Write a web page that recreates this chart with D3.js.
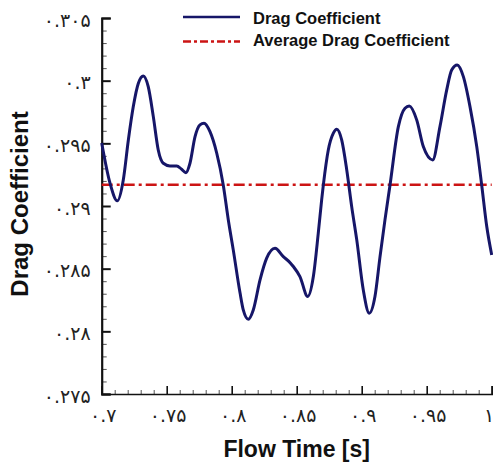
<!DOCTYPE html>
<html><head><meta charset="utf-8">
<script src="https://cdn.jsdelivr.net/npm/d3@7"></script>
<style>html,body{margin:0;padding:0;background:#fff;}</style>
</head><body>
<svg id="c" width="493" height="463"></svg>
<script>
const times = [0.7000,0.7064,0.7120,0.7166,0.7205,0.7243,0.7282,0.7320,0.7358,0.7397,0.7435,0.7474,0.7525,0.7577,0.7615,0.7648,0.7679,0.7718,0.7756,0.7787,0.7833,0.7885,0.7935,0.7974,0.8012,0.8064,0.8089,0.8128,0.8166,0.8218,0.8269,0.8333,0.8397,0.8451,0.8474,0.8525,0.8585,0.8628,0.8666,0.8692,0.8705,0.8743,0.8782,0.8808,0.8846,0.8885,0.8923,0.8962,0.9012,0.9058,0.9102,0.9141,0.9179,0.9218,0.9282,0.9333,0.9366,0.9423,0.9474,0.9546,0.9602,0.9654,0.9692,0.9735,0.9782,0.9833,0.9885,0.9923,0.9962,1.0000];
const dragCoef = [0.29503,0.29182,0.29041,0.29208,0.29527,0.29793,0.29979,0.30037,0.29952,0.29713,0.29447,0.29341,0.29320,0.29320,0.29293,0.29266,0.29341,0.29553,0.29647,0.29660,0.29593,0.29421,0.29168,0.28889,0.28650,0.28307,0.28171,0.28097,0.28171,0.28411,0.28584,0.28663,0.28596,0.28546,0.28517,0.28437,0.28278,0.28437,0.28783,0.29049,0.29168,0.29447,0.29581,0.29612,0.29527,0.29288,0.28995,0.28730,0.28331,0.28145,0.28278,0.28596,0.28889,0.29168,0.29633,0.29780,0.29798,0.29687,0.29474,0.29368,0.29633,0.29926,0.30085,0.30125,0.30032,0.29793,0.29474,0.29168,0.28836,0.28610];
const avgDrag = 0.2917;
const xTicks = [0.7,0.75,0.8,0.85,0.9,0.95,1.0];
const xTickLabels = ["۰.۷","۰.۷۵","۰.۸","۰.۸۵","۰.۹","۰.۹۵","۱"];
const yTicks = [0.275,0.28,0.285,0.29,0.295,0.3,0.305];
const yTickLabels = ["۰.۲۷۵","۰.۲۸","۰.۲۸۵","۰.۲۹","۰.۲۹۵","۰.۳","۰.۳۰۵"];
const seriesNames = ["Drag Coefficient","Average Drag Coefficient"];
const xTitle = "Flow Time [s]";
const yTitle = "Drag Coefficient";

const svg = d3.select("#c");
const x = d3.scaleLinear().domain([0.7,1.0]).range([101.7,491.7]);
const y = d3.scaleLinear().domain([0.275,0.305]).range([394,18]);
const blue = "#161668", red = "#cc1414";

const xMinor = d3.range(0,31).map(i=>0.7+i*0.01).filter(v=>Math.abs(Math.round(v*20)-v*20)>1e-6);
const yMinor = d3.range(0,31).map(i=>0.275+i*0.001).filter(v=>Math.abs(Math.round(v*200)-v*200)>1e-6);

// x axis
const gx = svg.append("g").attr("transform",`translate(0,${y(0.275)})`);
gx.call(d3.axisBottom(x).tickValues(xMinor).tickSize(-4).tickFormat(""));
gx.selectAll(".tick line").attr("stroke","#555").attr("stroke-width",1);
gx.select(".domain").remove();
const gx2 = svg.append("g").attr("transform",`translate(0,${y(0.275)})`)
  .call(d3.axisBottom(x).tickValues(xTicks).tickSize(-8).tickFormat((d,i)=>xTickLabels[i]));
gx2.selectAll(".tick line").attr("stroke","#111").attr("stroke-width",1.6);
gx2.select(".domain").attr("stroke","#111").attr("stroke-width",1.6);
gx2.selectAll(".tick text").attr("font-family","DejaVu Sans").attr("font-size",19).attr("fill","#222")
  .attr("dy","0").attr("y",28).attr("x",(d,i)=>i===xTicks.length-1?-3:1);

// y axis
const gy = svg.append("g").attr("transform",`translate(${x(0.7)},0)`);
gy.call(d3.axisLeft(y).tickValues(yMinor).tickSize(-5).tickFormat(""));
gy.selectAll(".tick line").attr("stroke","#555").attr("stroke-width",1);
gy.select(".domain").remove();
const gy2 = svg.append("g").attr("transform",`translate(${x(0.7)},0)`)
  .call(d3.axisLeft(y).tickValues(yTicks).tickSize(-9).tickFormat((d,i)=>yTickLabels[i]));
gy2.selectAll(".tick line").attr("stroke","#111").attr("stroke-width",2);
gy2.select(".domain").attr("stroke","#111").attr("stroke-width",2.2);
gy2.selectAll(".tick text").attr("font-family","DejaVu Sans").attr("font-size",19).attr("fill","#222")
  .attr("dy","0").attr("y",8).attr("x",-11);

// average line
svg.append("line").attr("x1",x(0.7)).attr("x2",x(1.0)).attr("y1",y(avgDrag)).attr("y2",y(avgDrag))
  .attr("stroke",red).attr("stroke-width",2.6).attr("stroke-dasharray","11,4,3,4");

// drag line
const data = times.map((t,i)=>[t,dragCoef[i]]);
svg.append("path").datum(data)
  .attr("d",d3.line().x(d=>x(d[0])).y(d=>y(d[1])).curve(d3.curveMonotoneX))
  .attr("fill","none").attr("stroke",blue).attr("stroke-width",3).attr("stroke-linejoin","round");

// legend
const leg = svg.append("g");
leg.append("line").attr("x1",183).attr("x2",240).attr("y1",17).attr("y2",17).attr("stroke",blue).attr("stroke-width",2.6);
leg.append("line").attr("x1",183).attr("x2",240).attr("y1",41.5).attr("y2",41.5).attr("stroke",red).attr("stroke-width",2.6).attr("stroke-dasharray","8,3,3,3");
leg.selectAll("text.lg").data(seriesNames).enter().append("text")
  .attr("x",253).attr("y",(d,i)=>23.5+i*22.5)
  .attr("font-family","Liberation Sans, Arial, sans-serif").attr("font-weight","bold").attr("font-size",16.5).attr("fill","#111")
  .text(d=>d);

// titles
svg.append("text").attr("x",(x(0.7)+x(1.0))/2).attr("y",457).attr("text-anchor","middle")
  .attr("font-family","Liberation Sans, Arial, sans-serif").attr("font-weight","bold").attr("font-size",23).attr("fill","#111").text(xTitle);
svg.append("text").attr("transform","translate(28,204) rotate(-90)").attr("text-anchor","middle")
  .attr("font-family","Liberation Sans, Arial, sans-serif").attr("font-weight","bold").attr("font-size",24).attr("fill","#111").text(yTitle);
</script>
</body></html>
